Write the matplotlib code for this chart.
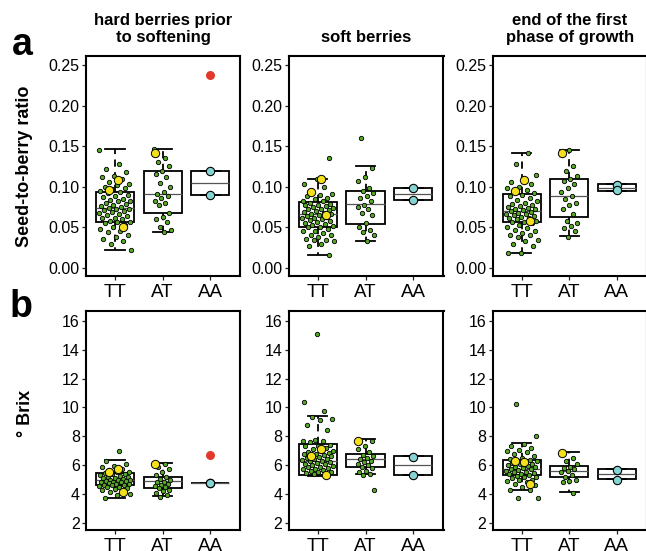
# seed-to-berry ratio and Brix by genotype, three developmental stages

import numpy as np
import matplotlib.pyplot as plt

plt.rcParams['font.family'] = ['Liberation Sans', 'DejaVu Sans']

groups = ['TT', 'AT', 'AA']
stages = ['hard berries prior\nto softening', 'soft berries', 'end of the first\nphase of growth']

# ---- row a: seed-to-berry ratio ----
# box stats per group: [lower whisker, q1, median, q3, upper whisker]
ratio_hard_box = [[0.022, 0.057, 0.074, 0.094, 0.146],
                  [0.044, 0.068, 0.091, 0.120, 0.147],
                  [0.090, 0.090, 0.105, 0.120, 0.120]]
ratio_hard_tt = [0.145, 0.128, 0.122, 0.118, 0.113, 0.112, 0.110, 0.106, 0.104, 0.102,
                 0.100, 0.099, 0.097, 0.095, 0.093, 0.092, 0.090, 0.088, 0.087, 0.085,
                 0.084, 0.083, 0.082, 0.080, 0.079, 0.078, 0.076, 0.075, 0.074, 0.073,
                 0.072, 0.071, 0.070, 0.069, 0.068, 0.066, 0.065, 0.064, 0.062, 0.061,
                 0.060, 0.058, 0.057, 0.056, 0.055, 0.053, 0.051, 0.048, 0.046, 0.044,
                 0.041, 0.038, 0.036, 0.033, 0.030, 0.022]
ratio_hard_tt_hl = [0.108, 0.096, 0.050]
ratio_hard_at = [0.147, 0.135, 0.130, 0.125, 0.120, 0.116, 0.112, 0.105, 0.100, 0.094,
                 0.091, 0.089, 0.086, 0.083, 0.080, 0.077, 0.068, 0.063, 0.060, 0.056,
                 0.050, 0.047, 0.044]
ratio_hard_at_hl = [0.142]
ratio_hard_aa = [0.120, 0.090]
ratio_hard_out = [0.237]

ratio_soft_box = [[0.016, 0.051, 0.066, 0.081, 0.109],
                  [0.033, 0.054, 0.079, 0.095, 0.125],
                  [0.084, 0.084, 0.091, 0.099, 0.099]]
ratio_soft_tt = [0.136, 0.110, 0.104, 0.100, 0.095, 0.091, 0.090, 0.088, 0.086, 0.085,
                 0.083, 0.082, 0.080, 0.079, 0.078, 0.077, 0.076, 0.075, 0.074, 0.073,
                 0.072, 0.071, 0.070, 0.069, 0.068, 0.067, 0.066, 0.065, 0.064, 0.063,
                 0.062, 0.061, 0.060, 0.059, 0.058, 0.056, 0.055, 0.054, 0.053, 0.052,
                 0.051, 0.050, 0.048, 0.046, 0.045, 0.043, 0.041, 0.040, 0.038, 0.036,
                 0.035, 0.034, 0.033, 0.030, 0.027, 0.016]
ratio_soft_tt_hl = [0.109, 0.093, 0.065]
ratio_soft_at = [0.160, 0.123, 0.112, 0.107, 0.098, 0.095, 0.092, 0.089, 0.086, 0.082,
                 0.078, 0.075, 0.072, 0.068, 0.065, 0.055, 0.050, 0.047, 0.044, 0.040,
                 0.033]
ratio_soft_at_hl = []
ratio_soft_aa = [0.099, 0.084]
ratio_soft_out = []

ratio_end_box = [[0.019, 0.057, 0.070, 0.091, 0.141],
                 [0.039, 0.063, 0.088, 0.110, 0.145],
                 [0.095, 0.095, 0.099, 0.103, 0.103]]
ratio_end_tt = [0.141, 0.128, 0.115, 0.110, 0.106, 0.103, 0.100, 0.098, 0.096, 0.094,
                0.092, 0.090, 0.088, 0.086, 0.084, 0.082, 0.080, 0.079, 0.078, 0.076,
                0.075, 0.074, 0.073, 0.072, 0.071, 0.070, 0.069, 0.068, 0.067, 0.066,
                0.065, 0.064, 0.063, 0.062, 0.061, 0.060, 0.058, 0.057, 0.056, 0.055,
                0.053, 0.051, 0.049, 0.047, 0.045, 0.043, 0.041, 0.040, 0.038, 0.035,
                0.033, 0.030, 0.027, 0.019, 0.018]
ratio_end_tt_hl = [0.108, 0.095, 0.058]
ratio_end_at = [0.145, 0.142, 0.126, 0.120, 0.113, 0.110, 0.107, 0.103, 0.098, 0.093,
                0.089, 0.085, 0.080, 0.077, 0.073, 0.067, 0.058, 0.055, 0.052, 0.049,
                0.045, 0.038]
ratio_end_at_hl = [0.142]
ratio_end_aa = [0.102, 0.096]
ratio_end_out = []

# ---- row b: Brix ----
brix_hard_box = [[3.75, 4.60, 4.99, 5.45, 6.33],
                 [3.84, 4.44, 4.88, 5.18, 6.15],
                 [4.76, 4.76, 4.76, 4.76, 4.76]]
brix_hard_tt = [6.95, 6.25, 6.05, 5.95, 5.85, 5.75, 5.65, 5.55, 5.5, 5.45,
                5.4, 5.35, 5.3, 5.25, 5.2, 5.15, 5.1, 5.1, 5.05, 5.0,
                5.0, 4.95, 4.9, 4.9, 4.85, 4.8, 4.8, 4.75, 4.7, 4.7,
                4.65, 4.6, 4.6, 4.55, 4.5, 4.45, 4.4, 4.35, 4.3, 4.2,
                4.15, 4.0, 3.9, 3.75]
brix_hard_tt_hl = [5.75, 5.5, 4.1]
brix_hard_at = [6.05, 5.85, 5.7, 5.5, 5.3, 5.15, 5.05, 4.95, 4.85, 4.8,
                4.7, 4.6, 4.55, 4.5, 4.4, 4.3, 4.2, 4.05, 3.95, 3.8]
brix_hard_at_hl = [6.05]
brix_hard_aa = [4.76, 4.76]
brix_hard_out = [6.7]

brix_soft_box = [[5.25, 5.34, 6.30, 7.43, 9.37],
                 [5.36, 5.87, 6.40, 6.79, 7.83],
                 [5.30, 5.30, 6.00, 6.60, 6.60]]
brix_soft_tt = [15.1, 10.4, 9.75, 9.3, 9.2, 9.1, 8.75, 8.4, 7.75, 7.7,
                7.7, 7.6, 7.4, 7.35, 7.3, 7.2, 7.1, 7.0, 6.95, 6.9,
                6.85, 6.8, 6.75, 6.7, 6.65, 6.6, 6.55, 6.5, 6.45, 6.4,
                6.35, 6.3, 6.25, 6.2, 6.15, 6.1, 6.05, 6.0, 5.95, 5.9,
                5.85, 5.8, 5.75, 5.7, 5.65, 5.6, 5.55, 5.5, 5.45, 5.4, 5.35]
brix_soft_tt_hl = [7.1, 6.6, 5.3]
brix_soft_at = [7.65, 7.3, 7.1, 6.9, 6.7, 6.6, 6.5, 6.4, 6.3, 6.2,
                6.1, 6.0, 5.9, 5.8, 5.6, 5.5, 5.35, 5.3, 4.25]
brix_soft_at_hl = [7.65]
brix_soft_aa = [6.55, 5.3]
brix_soft_out = []

brix_end_box = [[4.30, 5.34, 5.75, 6.37, 7.50],
                [4.10, 5.17, 5.60, 5.97, 6.90],
                [5.06, 5.06, 5.40, 5.70, 5.70]]
brix_end_tt = [10.2, 8.0, 7.45, 7.3, 7.15, 7.05, 7.0, 6.9, 6.75, 6.6,
               6.5, 6.4, 6.35, 6.3, 6.25, 6.2, 6.15, 6.1, 6.05, 6.0,
               5.95, 5.9, 5.85, 5.8, 5.75, 5.7, 5.65, 5.6, 5.55, 5.5,
               5.45, 5.4, 5.35, 5.3, 5.25, 5.2, 5.15, 5.1, 5.0, 4.95,
               4.9, 4.8, 4.7, 4.6, 4.5, 4.3, 4.25, 3.75, 3.7]
brix_end_tt_hl = [6.2, 6.3, 4.7]
brix_end_at = [6.9, 6.5, 6.3, 6.1, 5.9, 5.8, 5.7, 5.6, 5.5, 5.3,
               5.2, 5.0, 4.9, 4.8, 4.05]
brix_end_at_hl = [6.85]
brix_end_aa = [5.65, 5.0]
brix_end_out = []

rows = [
    [(ratio_hard_box, ratio_hard_tt, ratio_hard_tt_hl, ratio_hard_at, ratio_hard_at_hl, ratio_hard_aa, ratio_hard_out),
     (ratio_soft_box, ratio_soft_tt, ratio_soft_tt_hl, ratio_soft_at, ratio_soft_at_hl, ratio_soft_aa, ratio_soft_out),
     (ratio_end_box, ratio_end_tt, ratio_end_tt_hl, ratio_end_at, ratio_end_at_hl, ratio_end_aa, ratio_end_out)],
    [(brix_hard_box, brix_hard_tt, brix_hard_tt_hl, brix_hard_at, brix_hard_at_hl, brix_hard_aa, brix_hard_out),
     (brix_soft_box, brix_soft_tt, brix_soft_tt_hl, brix_soft_at, brix_soft_at_hl, brix_soft_aa, brix_soft_out),
     (brix_end_box, brix_end_tt, brix_end_tt_hl, brix_end_at, brix_end_at_hl, brix_end_aa, brix_end_out)],
]

GREEN = '#56a825'
YELLOW = '#f3df1c'
CYAN = '#86d4d2'
RED = '#e2392c'

W, H = 646, 551
fig = plt.figure(figsize=(W / 100, H / 100), dpi=100)

lefts = [86, 288.5, 492.7]
widths = [154, 155, 154]
row_top = [56, 310.7]
row_bot = [276, 530]


def jitter(n, amp, seed):
    # spread points sideways like stripchart(jitter=...)
    k = np.arange(n) + seed
    return amp * (((k * 0.6180339) % 1.0) * 2 - 1)


for r in range(2):
    for c in range(3):
        box, tt, tt_hl, at, at_hl, aa, out = rows[r][c]
        ax = fig.add_axes([lefts[c] / W, 1 - row_bot[r] / H, widths[c] / W, (row_bot[r] - row_top[r]) / H])

        stats = []
        for g in range(3):
            lo, q1, med, q3, hi = box[g]
            stats.append(dict(whislo=lo, q1=q1, med=med, q3=q3, whishi=hi, fliers=[]))
        ax.bxp(stats, positions=[1, 2, 3], widths=0.8, capwidths=0.4, showfliers=False,
               patch_artist=True,
               boxprops=dict(facecolor='white', edgecolor='black', linewidth=1.3),
               whiskerprops=dict(color='black', linewidth=1.3, linestyle=(0, (4, 3))),
               capprops=dict(color='black', linewidth=1.3),
               medianprops=dict(color='#555555', linewidth=0.9))

        ax.scatter(1 + jitter(len(tt), 0.34, 3 * c + r), tt, s=10, c=GREEN,
                   edgecolors='black', linewidths=0.6, zorder=3)
        ax.scatter(1 + jitter(len(tt_hl), 0.25, 1), tt_hl, s=36, c=YELLOW,
                   edgecolors='black', linewidths=0.7, zorder=4)
        ax.scatter(2 + jitter(len(at), 0.18, 2 * c + r), at, s=10, c=GREEN,
                   edgecolors='black', linewidths=0.6, zorder=3)
        ax.scatter(2 + jitter(len(at_hl), 0.15, 0) if len(at_hl) else [], at_hl, s=36, c=YELLOW,
                   edgecolors='black', linewidths=0.7, zorder=4)
        ax.scatter(np.full(len(aa), 3.0), aa, s=36, c=CYAN,
                   edgecolors='black', linewidths=0.8, zorder=4)
        if out:
            ax.scatter(np.full(len(out), 3.0), out, s=42, c=RED, linewidths=0, zorder=4)

        ax.set_xlim(0.39, 3.63)
        ax.set_xticks([1, 2, 3])
        ax.set_xticklabels(groups, fontsize=13.5)
        if r == 0:
            ax.set_ylim(-0.0099, 0.261)
            ax.set_yticks([0.0, 0.05, 0.10, 0.15, 0.20, 0.25])
            ax.set_yticklabels(['0.00', '0.05', '0.10', '0.15', '0.20', '0.25'])
            ax.set_title(stages[c], fontsize=12, fontweight='bold', pad=10, linespacing=1.2)
        else:
            ax.set_ylim(1.5, 16.7)
            ax.set_yticks([2, 4, 6, 8, 10, 12, 14, 16])
        ax.tick_params(axis='y', labelsize=11.5, length=3, width=0.9, pad=1.5, colors='#222222', labelcolor='black')
        ax.tick_params(axis='x', length=3, width=0.9, pad=2.5, colors='#222222', labelcolor='black')
        for sp in ax.spines.values():
            sp.set_linewidth(1.5)
            sp.set_color('black')

fig.text(25 / W, 1 - 166.5 / H, 'Seed-to-berry ratio', rotation=90, ha='center', va='center',
         fontsize=13, fontweight='bold')
fig.text(25 / W, 1 - 413 / H, '° Brix', rotation=90, ha='center', va='center',
         fontsize=13, fontweight='bold')
fig.text(12 / W, 1 - 55 / H, 'a', fontsize=27, fontweight='bold', va='baseline')
fig.text(10 / W, 1 - 317 / H, 'b', fontsize=27, fontweight='bold', va='baseline')

fig.savefig('out.png', dpi=100)
